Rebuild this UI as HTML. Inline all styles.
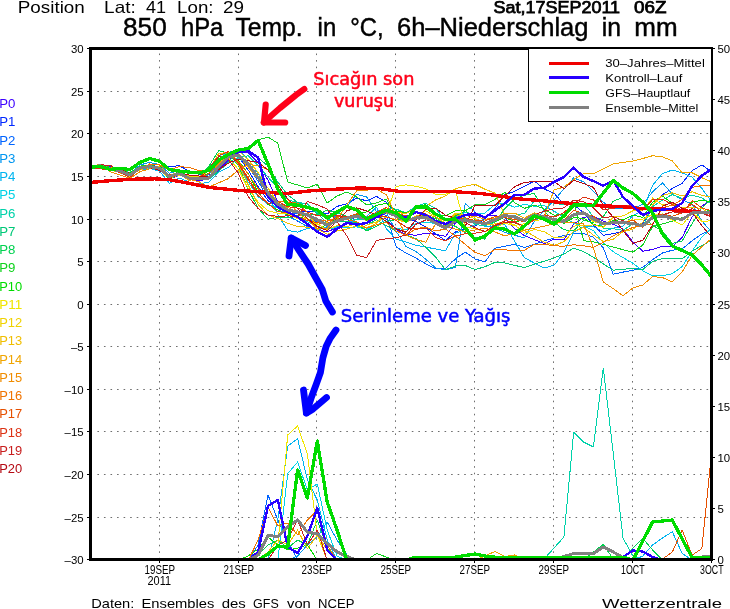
<!DOCTYPE html>
<html><head><meta charset="utf-8"><title>850 hPa Temp. in °C, 6h-Niederschlag in mm</title>
<style>
html,body{margin:0;padding:0;background:#fff;}
svg{display:block;}
</style></head>
<body>
<svg width="730" height="609" viewBox="0 0 730 609" font-family="'Liberation Sans', Arial, sans-serif">
<defs><clipPath id="clip"><rect x="90" y="48" width="622" height="512"/></clipPath></defs>
<rect width="730" height="609" fill="#fff"/>
<path d="M97.4 91.5H711 M97.4 133.5H711 M97.4 176.5H711 M97.4 219.5H711 M97.4 261.5H711 M97.4 304.5H711 M97.4 346.5H711 M97.4 389.5H711 M97.4 431.5H711 M97.4 474.5H711 M97.4 517.5H711 M159.5 53.5V558 M238.5 53.5V558 M316.5 53.5V558 M395.5 53.5V558 M474.5 53.5V558 M553.5 53.5V558 M632.5 53.5V558" stroke="#6e6e6e" stroke-width="1" stroke-dasharray="1.6 4.95" fill="none"/>
<g clip-path="url(#clip)" shape-rendering="crispEdges">
<polyline points="90.5,168.4 100.3,167.2 110.2,169.4 120.0,170.9 129.9,175.6 139.8,169.1 149.6,167.5 159.5,169.8 169.4,179.1 179.2,175.1 189.1,178.6 198.9,180.5 208.8,179.2 218.7,170.1 228.5,159.8 238.4,152.4 248.3,152.6 258.1,162.7 268.0,180.2 277.8,201.7 287.7,214.5 297.6,221.3 307.4,226.0 317.3,230.1 327.2,231.7 337.0,227.9 346.9,222.0 356.7,216.2 366.6,218.2 376.5,217.4 386.3,219.0 396.2,229.6 406.1,234.5 415.9,235.2 425.8,233.3 435.6,234.2 445.5,236.4 455.4,223.1 465.2,214.2 475.1,215.6 485.0,216.2 494.8,215.6 504.7,217.4 514.5,228.4 524.4,235.6 534.3,239.6 544.1,243.6 554.0,239.3 563.9,239.9 573.7,224.2 583.6,217.3 593.4,216.1 603.3,221.1 613.2,224.2 623.0,228.9 632.9,241.9 642.8,251.3 652.6,249.4 662.5,246.1 672.3,246.7 682.2,237.4 692.1,217.0 701.9,206.1 711.8,199.4" fill="none" stroke="#3c00ff" stroke-width="1" stroke-linejoin="round" stroke-linecap="round"/>
<polyline points="90.5,167.5 100.3,164.4 110.2,166.5 120.0,168.8 129.9,173.0 139.8,167.0 149.6,165.0 159.5,167.0 169.4,166.5 179.2,165.8 189.1,171.0 198.9,174.0 208.8,175.0 218.7,160.2 228.5,151.8 238.4,156.7 248.3,170.1 258.1,186.7 268.0,200.7 277.8,206.1 287.7,209.4 297.6,212.1 307.4,211.3 317.3,211.1 327.2,214.0 337.0,206.4 346.9,203.8 356.7,198.2 366.6,200.8 376.5,196.5 386.3,202.2 396.2,213.5 406.1,218.2 415.9,221.4 425.8,227.1 435.6,233.7 445.5,240.6 455.4,232.0 465.2,228.7 475.1,226.0 485.0,218.8 494.8,208.9 504.7,194.6 514.5,191.4 524.4,186.4 534.3,181.0 544.1,189.0 554.0,193.2 563.9,204.1 573.7,204.9 583.6,212.6 593.4,224.8 603.3,235.2 613.2,233.7 623.0,231.3 632.9,227.7 642.8,223.7 652.6,204.8 662.5,194.7 672.3,188.5 682.2,183.2 692.1,170.7 701.9,164.9 711.8,172.0" fill="none" stroke="#0028ff" stroke-width="1" stroke-linejoin="round" stroke-linecap="round"/>
<polyline points="90.5,168.4 100.3,167.3 110.2,170.4 120.0,172.1 129.9,175.9 139.8,167.5 149.6,166.8 159.5,167.8 169.4,176.5 179.2,172.9 189.1,178.1 198.9,178.8 208.8,176.6 218.7,165.3 228.5,156.0 238.4,155.6 248.3,166.7 258.1,181.4 268.0,198.0 277.8,207.6 287.7,213.6 297.6,213.2 307.4,219.1 317.3,221.5 327.2,225.2 337.0,221.6 346.9,217.9 356.7,217.1 366.6,218.7 376.5,213.1 386.3,215.2 396.2,246.9 406.1,253.1 415.9,258.1 425.8,263.7 435.6,269.0 445.5,268.2 455.4,259.1 465.2,252.0 475.1,259.0 485.0,261.9 494.8,248.3 504.7,246.3 514.5,244.4 524.4,247.5 534.3,244.2 544.1,240.9 554.0,238.1 563.9,235.6 573.7,233.4 583.6,233.4 593.4,237.3 603.3,247.7 613.2,274.1 623.0,272.1 632.9,270.3 642.8,267.4 652.6,259.6 662.5,253.0 672.3,250.2 682.2,248.9 692.1,240.8 701.9,233.9 711.8,228.9" fill="none" stroke="#0064ff" stroke-width="1" stroke-linejoin="round" stroke-linecap="round"/>
<polyline points="90.5,168.5 100.3,167.7 110.2,169.8 120.0,171.3 129.9,174.3 139.8,165.0 149.6,162.4 159.5,164.7 169.4,173.2 179.2,170.8 189.1,177.1 198.9,178.8 208.8,174.5 218.7,163.0 228.5,152.3 238.4,150.1 248.3,159.9 258.1,173.6 268.0,192.4 277.8,208.1 287.7,216.4 297.6,220.8 307.4,226.8 317.3,230.2 327.2,226.8 337.0,214.0 346.9,206.3 356.7,194.3 366.6,196.9 376.5,211.9 386.3,212.7 396.2,231.5 406.1,246.5 415.9,251.4 425.8,259.2 435.6,268.0 445.5,270.0 455.4,267.3 465.2,203.6 475.1,211.8 485.0,222.1 494.8,228.1 504.7,232.2 514.5,235.2 524.4,237.9 534.3,221.2 544.1,210.6 554.0,200.3 563.9,189.0 573.7,177.9 583.6,181.8 593.4,191.2 603.3,202.3 613.2,208.3 623.0,208.8 632.9,209.0 642.8,204.0 652.6,191.7 662.5,183.0 672.3,193.9 682.2,199.7 692.1,204.1 701.9,221.0 711.8,232.5" fill="none" stroke="#0096f0" stroke-width="1" stroke-linejoin="round" stroke-linecap="round"/>
<polyline points="90.5,167.5 100.3,167.1 110.2,167.8 120.0,169.3 129.9,174.1 139.8,170.0 149.6,168.5 159.5,171.0 169.4,183.4 179.2,178.0 189.1,182.0 198.9,184.0 208.8,182.0 218.7,172.0 228.5,167.3 238.4,157.8 248.3,164.7 258.1,177.1 268.0,196.0 277.8,214.7 287.7,230.4 297.6,232.1 307.4,228.5 317.3,226.5 327.2,228.3 337.0,226.8 346.9,223.7 356.7,219.0 366.6,216.6 376.5,207.1 386.3,228.7 396.2,239.1 406.1,242.1 415.9,245.2 425.8,247.1 435.6,249.0 445.5,250.8 455.4,233.4 465.2,229.5 475.1,224.3 485.0,226.2 494.8,226.1 504.7,224.2 514.5,241.0 524.4,257.7 534.3,263.0 544.1,268.0 554.0,265.3 563.9,252.6 573.7,232.2 583.6,226.7 593.4,226.5 603.3,232.0 613.2,228.1 623.0,226.1 632.9,215.7 642.8,210.1 652.6,185.3 662.5,173.5 672.3,170.0 682.2,172.9 692.1,177.2 701.9,188.5 711.8,202.2" fill="none" stroke="#00b4f0" stroke-width="1" stroke-linejoin="round" stroke-linecap="round"/>
<polyline points="90.5,168.7 100.3,166.2 110.2,169.9 120.0,172.3 129.9,177.4 139.8,167.3 149.6,167.8 159.5,168.5 169.4,177.1 179.2,173.1 189.1,178.1 198.9,178.9 208.8,169.3 218.7,155.8 228.5,153.0 238.4,163.3 248.3,182.2 258.1,196.6 268.0,204.1 277.8,207.9 287.7,211.2 297.6,217.2 307.4,221.7 317.3,226.7 327.2,229.0 337.0,227.6 346.9,227.7 356.7,226.8 366.6,229.5 376.5,224.6 386.3,222.4 396.2,228.1 406.1,230.0 415.9,223.2 425.8,222.3 435.6,223.4 445.5,228.3 455.4,216.0 465.2,212.5 475.1,213.8 485.0,213.0 494.8,204.5 504.7,203.3 514.5,207.2 524.4,204.2 534.3,206.3 544.1,205.5 554.0,211.1 563.9,217.1 573.7,223.2 583.6,226.2 593.4,230.5 603.3,242.8 613.2,251.7 623.0,257.6 632.9,263.3 642.8,270.7 652.6,275.8 662.5,275.8 672.3,273.7 682.2,266.5 692.1,251.1 701.9,237.0 711.8,228.1" fill="none" stroke="#00d2e6" stroke-width="1" stroke-linejoin="round" stroke-linecap="round"/>
<polyline points="90.5,168.9 100.3,166.4 110.2,169.0 120.0,170.4 129.9,172.3 139.8,167.4 149.6,166.4 159.5,166.3 169.4,175.6 179.2,172.9 189.1,175.7 198.9,178.9 208.8,179.3 218.7,171.5 228.5,162.0 238.4,157.4 248.3,155.8 258.1,165.5 268.0,177.2 277.8,187.9 287.7,199.8 297.6,202.4 307.4,203.9 317.3,212.6 327.2,219.0 337.0,221.2 346.9,217.6 356.7,219.8 366.6,219.7 376.5,214.7 386.3,207.9 396.2,209.2 406.1,212.8 415.9,206.2 425.8,203.2 435.6,208.6 445.5,220.2 455.4,216.3 465.2,218.2 475.1,224.3 485.0,225.9 494.8,222.1 504.7,215.7 514.5,215.2 524.4,213.5 534.3,200.9 544.1,202.0 554.0,203.1 563.9,205.0 573.7,203.5 583.6,204.4 593.4,216.8 603.3,228.1 613.2,228.6 623.0,230.4 632.9,223.8 642.8,226.7 652.6,206.7 662.5,200.0 672.3,194.5 682.2,198.5 692.1,195.0 701.9,198.0 711.8,204.0" fill="none" stroke="#00d2aa" stroke-width="1" stroke-linejoin="round" stroke-linecap="round"/>
<polyline points="90.5,166.3 100.3,165.0 110.2,168.5 120.0,171.0 129.9,173.5 139.8,167.4 149.6,166.8 159.5,167.7 169.4,176.7 179.2,175.0 189.1,179.0 198.9,179.9 208.8,178.6 218.7,171.3 228.5,161.7 238.4,151.4 248.3,150.4 258.1,157.9 268.0,165.9 277.8,182.1 287.7,194.8 297.6,202.5 307.4,207.2 317.3,213.7 327.2,222.7 337.0,221.3 346.9,221.5 356.7,223.0 366.6,225.3 376.5,219.7 386.3,225.6 396.2,231.3 406.1,235.0 415.9,238.6 425.8,247.3 435.6,257.1 445.5,269.8 455.4,266.0 465.2,265.5 475.1,269.6 485.0,266.7 494.8,262.4 504.7,263.0 514.5,265.4 524.4,267.4 534.3,264.3 544.1,261.2 554.0,257.9 563.9,254.1 573.7,248.1 583.6,251.6 593.4,257.3 603.3,263.9 613.2,270.2 623.0,269.2 632.9,268.6 642.8,269.5 652.6,261.3 662.5,258.6 672.3,258.9 682.2,258.8 692.1,251.0 701.9,245.5 711.8,240.1" fill="none" stroke="#00c878" stroke-width="1" stroke-linejoin="round" stroke-linecap="round"/>
<polyline points="90.5,169.0 100.3,165.8 110.2,168.2 120.0,170.6 129.9,174.6 139.8,168.1 149.6,166.0 159.5,168.5 169.4,179.2 179.2,174.5 189.1,179.1 198.9,177.1 208.8,166.4 218.7,150.7 228.5,153.1 238.4,165.4 248.3,189.6 258.1,208.1 268.0,219.3 277.8,217.3 287.7,217.9 297.6,215.7 307.4,215.0 317.3,214.4 327.2,210.2 337.0,212.6 346.9,216.5 356.7,223.7 366.6,230.9 376.5,226.2 386.3,221.4 396.2,219.5 406.1,219.2 415.9,206.6 425.8,205.7 435.6,217.4 445.5,224.1 455.4,226.2 465.2,232.9 475.1,237.4 485.0,239.1 494.8,222.4 504.7,208.7 514.5,199.1 524.4,195.2 534.3,193.4 544.1,210.5 554.0,222.1 563.9,229.8 573.7,231.0 583.6,220.1 593.4,222.5 603.3,216.6 613.2,201.3 623.0,197.2 632.9,206.6 642.8,215.7 652.6,225.3 662.5,231.2 672.3,243.5 682.2,241.0 692.1,223.5 701.9,207.9 711.8,198.4" fill="none" stroke="#00d250" stroke-width="1" stroke-linejoin="round" stroke-linecap="round"/>
<polyline points="90.5,165.9 100.3,165.0 110.2,167.2 120.0,169.0 129.9,174.1 139.8,166.2 149.6,164.9 159.5,167.3 169.4,175.7 179.2,173.6 189.1,178.3 198.9,177.3 208.8,167.9 218.7,156.6 228.5,155.2 238.4,150.0 248.3,149.7 258.1,140.0 268.0,137.0 277.8,143.2 287.7,182.0 297.6,185.0 307.4,188.0 317.3,184.2 327.2,203.0 337.0,196.0 346.9,192.0 356.7,197.1 366.6,205.0 376.5,202.9 386.3,199.0 396.2,215.0 406.1,220.5 415.9,217.3 425.8,214.6 435.6,218.9 445.5,226.0 455.4,216.0 465.2,210.7 475.1,205.0 485.0,204.5 494.8,199.6 504.7,192.3 514.5,202.5 524.4,208.4 534.3,205.1 544.1,208.9 554.0,215.2 563.9,214.3 573.7,202.0 583.6,240.7 593.4,241.9 603.3,244.4 613.2,247.0 623.0,249.7 632.9,252.1 642.8,245.0 652.6,226.5 662.5,223.9 672.3,221.2 682.2,217.7 692.1,214.5 701.9,212.3 711.8,210.0" fill="none" stroke="#10d21e" stroke-width="1" stroke-linejoin="round" stroke-linecap="round"/>
<polyline points="90.5,167.5 100.3,165.4 110.2,168.4 120.0,169.8 129.9,173.0 139.8,167.1 149.6,166.2 159.5,166.2 169.4,176.0 179.2,171.3 189.1,176.4 198.9,178.1 208.8,173.2 218.7,162.3 228.5,155.0 238.4,160.8 248.3,173.9 258.1,192.1 268.0,204.5 277.8,210.0 287.7,214.8 297.6,216.7 307.4,219.0 317.3,229.0 327.2,224.5 337.0,218.8 346.9,217.8 356.7,214.2 366.6,211.9 376.5,205.4 386.3,203.3 396.2,210.9 406.1,212.8 415.9,209.0 425.8,208.4 435.6,215.6 445.5,215.7 455.4,210.8 465.2,209.9 475.1,220.0 485.0,224.1 494.8,221.6 504.7,217.4 514.5,221.7 524.4,220.3 534.3,219.1 544.1,217.6 554.0,219.9 563.9,223.4 573.7,217.8 583.6,218.2 593.4,224.3 603.3,226.7 613.2,220.1 623.0,219.9 632.9,215.2 642.8,217.3 652.6,202.2 662.5,195.9 672.3,203.4 682.2,211.8 692.1,202.3 701.9,200.0 711.8,202.3" fill="none" stroke="#00dc00" stroke-width="1" stroke-linejoin="round" stroke-linecap="round"/>
<polyline points="90.5,167.3 100.3,167.7 110.2,169.3 120.0,171.9 129.9,176.7 139.8,168.4 149.6,167.2 159.5,169.6 169.4,178.4 179.2,174.4 189.1,179.2 198.9,179.2 208.8,170.7 218.7,160.6 228.5,158.1 238.4,169.4 248.3,188.9 258.1,202.1 268.0,210.8 277.8,213.2 287.7,213.6 297.6,218.7 307.4,218.8 317.3,224.6 327.2,222.4 337.0,220.9 346.9,218.0 356.7,215.6 366.6,218.3 376.5,213.4 386.3,213.3 396.2,186.4 406.1,184.8 415.9,186.3 425.8,188.8 435.6,194.4 445.5,194.4 455.4,190.0 465.2,226.9 475.1,228.9 485.0,231.7 494.8,227.8 504.7,223.2 514.5,225.5 524.4,223.8 534.3,220.6 544.1,219.3 554.0,223.7 563.9,221.9 573.7,214.4 583.6,213.3 593.4,221.6 603.3,224.0 613.2,221.5 623.0,223.4 632.9,219.0 642.8,219.1 652.6,214.6 662.5,214.0 672.3,220.3 682.2,225.1 692.1,212.0 701.9,221.3 711.8,220.8" fill="none" stroke="#f0e600" stroke-width="1" stroke-linejoin="round" stroke-linecap="round"/>
<polyline points="90.5,166.4 100.3,167.3 110.2,169.2 120.0,172.9 129.9,175.4 139.8,169.9 149.6,167.5 159.5,169.0 169.4,178.0 179.2,175.0 189.1,176.0 198.9,176.0 208.8,176.5 218.7,164.5 228.5,152.6 238.4,150.7 248.3,159.9 258.1,172.7 268.0,188.2 277.8,202.3 287.7,209.8 297.6,213.2 307.4,215.8 317.3,223.8 327.2,229.9 337.0,225.4 346.9,226.5 356.7,223.7 366.6,225.2 376.5,222.0 386.3,217.0 396.2,219.5 406.1,222.3 415.9,216.9 425.8,210.7 435.6,216.7 445.5,223.3 455.4,213.2 465.2,215.0 475.1,218.8 485.0,224.9 494.8,223.9 504.7,221.9 514.5,224.7 524.4,233.2 534.3,229.4 544.1,231.6 554.0,237.6 563.9,237.3 573.7,226.1 583.6,225.5 593.4,224.9 603.3,227.4 613.2,217.1 623.0,215.9 632.9,210.8 642.8,210.3 652.6,198.0 662.5,205.1 672.3,203.0 682.2,208.0 692.1,207.4 701.9,208.4 711.8,215.5" fill="none" stroke="#f0d200" stroke-width="1" stroke-linejoin="round" stroke-linecap="round"/>
<polyline points="90.5,167.3 100.3,165.8 110.2,170.3 120.0,172.1 129.9,175.2 139.8,168.3 149.6,165.9 159.5,166.6 169.4,174.9 179.2,172.7 189.1,177.4 198.9,177.3 208.8,169.6 218.7,153.4 228.5,152.5 238.4,164.3 248.3,185.2 258.1,204.5 268.0,215.0 277.8,218.6 287.7,223.3 297.6,226.4 307.4,227.2 317.3,229.0 327.2,234.2 337.0,230.9 346.9,229.0 356.7,225.7 366.6,227.9 376.5,223.4 386.3,209.5 396.2,212.1 406.1,213.8 415.9,207.3 425.8,206.6 435.6,200.0 445.5,195.9 455.4,188.7 465.2,186.2 475.1,184.3 485.0,189.2 494.8,193.1 504.7,214.5 514.5,220.4 524.4,230.4 534.3,236.2 544.1,242.2 554.0,245.3 563.9,241.8 573.7,231.1 583.6,227.5 593.4,235.1 603.3,241.6 613.2,239.2 623.0,231.6 632.9,229.3 642.8,222.5 652.6,204.7 662.5,195.3 672.3,192.8 682.2,196.1 692.1,191.7 701.9,195.4 711.8,197.2" fill="none" stroke="#f0be00" stroke-width="1" stroke-linejoin="round" stroke-linecap="round"/>
<polyline points="90.5,165.2 100.3,166.7 110.2,167.4 120.0,170.4 129.9,175.3 139.8,168.2 149.6,167.0 159.5,169.0 169.4,177.6 179.2,173.9 189.1,180.4 198.9,178.0 208.8,176.5 218.7,164.2 228.5,154.7 238.4,155.9 248.3,167.5 258.1,179.0 268.0,192.6 277.8,203.0 287.7,207.5 297.6,212.3 307.4,215.5 317.3,220.2 327.2,223.8 337.0,221.9 346.9,219.2 356.7,216.1 366.6,220.9 376.5,215.1 386.3,211.7 396.2,214.7 406.1,221.3 415.9,216.0 425.8,214.3 435.6,217.0 445.5,220.8 455.4,214.9 465.2,215.5 475.1,216.4 485.0,219.2 494.8,218.2 504.7,213.2 514.5,213.0 524.4,218.2 534.3,212.8 544.1,216.9 554.0,190.0 563.9,187.0 573.7,179.5 583.6,173.6 593.4,173.7 603.3,168.8 613.2,163.9 623.0,162.4 632.9,161.1 642.8,158.5 652.6,155.7 662.5,156.9 672.3,160.9 682.2,172.8 692.1,172.8 701.9,177.7 711.8,182.0" fill="none" stroke="#f0a500" stroke-width="1" stroke-linejoin="round" stroke-linecap="round"/>
<polyline points="90.5,165.7 100.3,164.7 110.2,171.6 120.0,174.9 129.9,178.5 139.8,171.7 149.6,168.9 159.5,168.5 169.4,176.3 179.2,173.5 189.1,179.2 198.9,181.7 208.8,187.0 218.7,182.8 228.5,178.6 238.4,169.7 248.3,164.6 258.1,165.4 268.0,170.0 277.8,184.5 287.7,199.3 297.6,213.3 307.4,219.0 317.3,229.0 327.2,228.3 337.0,219.2 346.9,204.9 356.7,190.8 366.6,190.2 376.5,189.2 386.3,194.8 396.2,216.5 406.1,235.3 415.9,239.4 425.8,242.2 435.6,223.5 445.5,226.2 455.4,229.1 465.2,232.0 475.1,230.0 485.0,228.0 494.8,231.9 504.7,235.9 514.5,233.1 524.4,230.2 534.3,228.1 544.1,226.2 554.0,223.6 563.9,222.2 573.7,222.8 583.6,224.0 593.4,247.6 603.3,282.1 613.2,288.6 623.0,295.8 632.9,287.9 642.8,285.0 652.6,276.6 662.5,277.6 672.3,281.9 682.2,272.0 692.1,255.4 701.9,246.8 711.8,238.2" fill="none" stroke="#f08c00" stroke-width="1" stroke-linejoin="round" stroke-linecap="round"/>
<polyline points="90.5,166.8 100.3,164.7 110.2,169.4 120.0,170.9 129.9,176.1 139.8,169.6 149.6,164.0 159.5,165.0 169.4,170.0 179.2,166.5 189.1,167.5 198.9,170.5 208.8,172.0 218.7,163.0 228.5,151.2 238.4,161.6 248.3,174.2 258.1,188.6 268.0,196.3 277.8,201.3 287.7,202.3 297.6,203.1 307.4,212.6 317.3,220.2 327.2,221.1 337.0,217.8 346.9,219.5 356.7,221.9 366.6,228.3 376.5,224.7 386.3,222.6 396.2,231.0 406.1,235.4 415.9,228.7 425.8,227.1 435.6,231.0 445.5,229.0 455.4,236.0 465.2,244.4 475.1,252.4 485.0,255.7 494.8,249.6 504.7,249.9 514.5,250.4 524.4,250.3 534.3,244.4 544.1,244.2 554.0,245.8 563.9,246.2 573.7,244.8 583.6,245.7 593.4,247.5 603.3,242.3 613.2,235.7 623.0,231.0 632.9,227.5 642.8,225.5 652.6,224.0 662.5,207.7 672.3,205.2 682.2,199.4 692.1,187.3 701.9,185.6 711.8,186.1" fill="none" stroke="#f07300" stroke-width="1" stroke-linejoin="round" stroke-linecap="round"/>
<polyline points="90.5,166.4 100.3,166.8 110.2,167.9 120.0,170.4 129.9,173.9 139.8,167.3 149.6,165.9 159.5,168.5 169.4,174.9 179.2,173.1 189.1,179.1 198.9,178.1 208.8,173.7 218.7,161.4 228.5,153.5 238.4,162.3 248.3,178.1 258.1,193.3 268.0,203.4 277.8,211.5 287.7,213.2 297.6,216.9 307.4,220.4 317.3,222.8 327.2,224.0 337.0,216.7 346.9,217.4 356.7,213.7 366.6,217.3 376.5,212.1 386.3,207.6 396.2,212.5 406.1,216.1 415.9,211.9 425.8,214.0 435.6,220.4 445.5,223.2 455.4,219.2 465.2,217.9 475.1,220.6 485.0,221.1 494.8,216.5 504.7,217.6 514.5,219.4 524.4,221.8 534.3,215.5 544.1,217.3 554.0,219.5 563.9,220.3 573.7,210.1 583.6,214.1 593.4,216.0 603.3,223.8 613.2,222.8 623.0,223.8 632.9,219.9 642.8,227.4 652.6,216.5 662.5,214.1 672.3,216.3 682.2,212.7 692.1,200.8 701.9,208.1 711.8,210.7" fill="none" stroke="#e65000" stroke-width="1" stroke-linejoin="round" stroke-linecap="round"/>
<polyline points="90.5,167.4 100.3,168.9 110.2,169.6 120.0,172.6 129.9,177.3 139.8,168.6 149.6,166.6 159.5,169.9 169.4,177.2 179.2,172.9 189.1,177.2 198.9,177.5 208.8,170.4 218.7,155.7 228.5,151.6 238.4,163.6 248.3,179.9 258.1,195.6 268.0,203.6 277.8,201.5 287.7,206.7 297.6,208.1 307.4,212.0 317.3,215.7 327.2,215.2 337.0,215.3 346.9,217.0 356.7,215.7 366.6,220.2 376.5,216.3 386.3,216.6 396.2,220.6 406.1,227.1 415.9,229.3 425.8,228.1 435.6,237.6 445.5,240.9 455.4,236.0 465.2,233.7 475.1,233.2 485.0,231.6 494.8,225.1 504.7,220.9 514.5,221.4 524.4,227.0 534.3,219.7 544.1,214.8 554.0,217.1 563.9,212.6 573.7,203.7 583.6,197.1 593.4,199.9 603.3,210.0 613.2,208.4 623.0,205.7 632.9,205.4 642.8,210.3 652.6,199.6 662.5,199.4 672.3,204.4 682.2,210.4 692.1,204.0 701.9,212.3 711.8,217.1" fill="none" stroke="#dc3214" stroke-width="1" stroke-linejoin="round" stroke-linecap="round"/>
<polyline points="90.5,167.1 100.3,164.8 110.2,165.3 120.0,170.8 129.9,173.6 139.8,168.3 149.6,166.5 159.5,169.2 169.4,177.8 179.2,174.5 189.1,178.1 198.9,179.6 208.8,168.7 218.7,156.3 228.5,159.4 238.4,173.5 248.3,196.8 258.1,208.6 268.0,215.0 277.8,216.5 287.7,215.8 297.6,216.8 307.4,201.4 317.3,204.7 327.2,209.1 337.0,221.7 346.9,236.0 356.7,255.1 366.6,257.7 376.5,240.5 386.3,238.7 396.2,237.7 406.1,235.0 415.9,224.3 425.8,220.0 435.6,220.1 445.5,228.0 455.4,218.4 465.2,222.5 475.1,227.8 485.0,231.4 494.8,225.7 504.7,222.4 514.5,222.9 524.4,226.0 534.3,215.0 544.1,211.1 554.0,208.8 563.9,207.9 573.7,200.0 583.6,201.7 593.4,207.8 603.3,217.8 613.2,216.5 623.0,220.8 632.9,224.1 642.8,224.8 652.6,217.2 662.5,214.9 672.3,211.8 682.2,213.1 692.1,208.7 701.9,213.3 711.8,217.0" fill="none" stroke="#c81e1e" stroke-width="1" stroke-linejoin="round" stroke-linecap="round"/>
<polyline points="90.5,168.0 100.3,165.3 110.2,168.0 120.0,169.1 129.9,173.7 139.8,169.0 149.6,167.5 159.5,170.4 169.4,177.2 179.2,173.3 189.1,175.0 198.9,176.0 208.8,176.9 218.7,169.5 228.5,163.1 238.4,159.2 248.3,160.6 258.1,162.5 268.0,169.8 277.8,185.1 287.7,198.9 297.6,208.7 307.4,218.6 317.3,226.5 327.2,230.6 337.0,221.2 346.9,210.8 356.7,207.8 366.6,211.0 376.5,214.9 386.3,221.3 396.2,228.9 406.1,232.2 415.9,219.7 425.8,209.3 435.6,208.1 445.5,215.2 455.4,218.2 465.2,226.3 475.1,205.0 485.0,205.6 494.8,205.8 504.7,195.9 514.5,186.9 524.4,182.2 534.3,181.8 544.1,181.6 554.0,181.3 563.9,188.9 573.7,180.2 583.6,183.5 593.4,187.4 603.3,205.7 613.2,217.2 623.0,230.5 632.9,243.4 642.8,240.3 652.6,224.9 662.5,206.2 672.3,202.3 682.2,208.5 692.1,212.1 701.9,225.8 711.8,237.3" fill="none" stroke="#b40a14" stroke-width="1" stroke-linejoin="round" stroke-linecap="round"/>
<polyline points="90.5,560.2 100.3,560.2 110.2,560.2 120.0,560.2 129.9,560.2 139.8,560.2 149.6,560.2 159.5,560.2 169.4,560.2 179.2,560.2 189.1,560.2 198.9,560.2 208.8,560.2 218.7,560.2 228.5,560.2 238.4,560.2 248.3,560.2 258.1,560.2 268.0,560.2 277.8,560.2 287.7,560.2 297.6,560.2 307.4,560.2 317.3,560.2 327.2,560.2 337.0,560.2 346.9,560.2 356.7,560.2 366.6,560.2 376.5,560.2 386.3,560.2 396.2,560.2 406.1,560.2 415.9,560.2 425.8,560.2 435.6,560.2 445.5,560.2 455.4,560.2 465.2,560.2 475.1,560.2 485.0,560.2 494.8,560.2 504.7,560.2 514.5,560.2 524.4,560.2 534.3,560.2 544.1,560.2 554.0,560.2 563.9,560.2 573.7,560.2 583.6,560.2 593.4,560.2 603.3,560.2 613.2,560.2 623.0,560.2 632.9,560.2 642.8,560.2 652.6,560.2 662.5,560.2 672.3,560.2 682.2,560.2 692.1,560.2 701.9,560.2 711.8,560.2" fill="none" stroke="#3c00ff" stroke-width="1" stroke-linejoin="round" stroke-linecap="round"/>
<polyline points="90.5,560.2 100.3,560.2 110.2,560.2 120.0,560.2 129.9,560.2 139.8,560.2 149.6,560.2 159.5,560.2 169.4,560.2 179.2,560.2 189.1,560.2 198.9,560.2 208.8,560.2 218.7,560.2 228.5,560.2 238.4,560.2 248.3,560.2 258.1,560.2 268.0,560.2 277.8,560.2 287.7,560.2 297.6,560.2 307.4,560.2 317.3,560.2 327.2,560.2 337.0,560.2 346.9,560.2 356.7,560.2 366.6,560.2 376.5,560.2 386.3,560.2 396.2,560.2 406.1,560.2 415.9,560.2 425.8,560.2 435.6,560.2 445.5,560.2 455.4,560.2 465.2,560.2 475.1,560.2 485.0,560.2 494.8,560.2 504.7,560.2 514.5,560.2 524.4,560.2 534.3,560.2 544.1,560.2 554.0,560.2 563.9,560.2 573.7,560.2 583.6,560.2 593.4,560.2 603.3,560.2 613.2,560.2 623.0,560.2 632.9,560.2 642.8,560.2 652.6,560.2 662.5,560.2 672.3,560.2 682.2,560.2 692.1,560.2 701.9,560.2 711.8,560.2" fill="none" stroke="#0028ff" stroke-width="1" stroke-linejoin="round" stroke-linecap="round"/>
<polyline points="90.5,560.2 100.3,560.2 110.2,560.2 120.0,560.2 129.9,560.2 139.8,560.2 149.6,560.2 159.5,560.2 169.4,560.2 179.2,560.2 189.1,560.2 198.9,560.2 208.8,560.2 218.7,560.2 228.5,560.2 238.4,560.2 248.3,560.2 258.1,545.0 268.0,495.0 277.8,520.0 287.7,540.0 297.6,560.2 307.4,560.2 317.3,560.2 327.2,560.2 337.0,560.2 346.9,560.2 356.7,560.2 366.6,560.2 376.5,560.2 386.3,560.2 396.2,560.2 406.1,560.2 415.9,560.2 425.8,560.2 435.6,560.2 445.5,560.2 455.4,560.2 465.2,560.2 475.1,560.2 485.0,560.2 494.8,560.2 504.7,560.2 514.5,560.2 524.4,560.2 534.3,560.2 544.1,560.2 554.0,560.2 563.9,560.2 573.7,560.2 583.6,560.2 593.4,560.2 603.3,560.2 613.2,560.2 623.0,560.2 632.9,560.2 642.8,560.2 652.6,560.2 662.5,560.2 672.3,560.2 682.2,560.2 692.1,560.2 701.9,560.2 711.8,560.2" fill="none" stroke="#0064ff" stroke-width="1" stroke-linejoin="round" stroke-linecap="round"/>
<polyline points="90.5,560.2 100.3,560.2 110.2,560.2 120.0,560.2 129.9,560.2 139.8,560.2 149.6,560.2 159.5,560.2 169.4,560.2 179.2,560.2 189.1,560.2 198.9,560.2 208.8,560.2 218.7,560.2 228.5,560.2 238.4,560.2 248.3,560.2 258.1,560.2 268.0,560.2 277.8,560.2 287.7,560.2 297.6,556.0 307.4,545.0 317.3,537.0 327.2,522.0 337.0,540.0 346.9,555.0 356.7,560.2 366.6,560.2 376.5,560.2 386.3,560.2 396.2,560.2 406.1,560.2 415.9,560.2 425.8,560.2 435.6,560.2 445.5,560.2 455.4,560.2 465.2,560.2 475.1,560.2 485.0,560.2 494.8,560.2 504.7,560.2 514.5,560.2 524.4,560.2 534.3,560.2 544.1,560.2 554.0,560.2 563.9,560.2 573.7,560.2 583.6,560.2 593.4,560.2 603.3,560.2 613.2,560.2 623.0,560.2 632.9,560.2 642.8,560.2 652.6,560.2 662.5,560.2 672.3,560.2 682.2,560.2 692.1,560.2 701.9,560.2 711.8,560.2" fill="none" stroke="#0096f0" stroke-width="1" stroke-linejoin="round" stroke-linecap="round"/>
<polyline points="90.5,560.2 100.3,560.2 110.2,560.2 120.0,560.2 129.9,560.2 139.8,560.2 149.6,560.2 159.5,560.2 169.4,560.2 179.2,560.2 189.1,560.2 198.9,560.2 208.8,560.2 218.7,560.2 228.5,560.2 238.4,560.2 248.3,560.2 258.1,560.2 268.0,560.2 277.8,520.0 287.7,446.0 297.6,438.6 307.4,480.0 317.3,500.0 327.2,540.0 337.0,560.2 346.9,560.2 356.7,560.2 366.6,560.2 376.5,560.2 386.3,560.2 396.2,560.2 406.1,560.2 415.9,560.2 425.8,560.2 435.6,560.2 445.5,560.2 455.4,560.2 465.2,560.2 475.1,560.2 485.0,560.2 494.8,560.2 504.7,560.2 514.5,560.2 524.4,560.2 534.3,560.2 544.1,560.2 554.0,560.2 563.9,560.2 573.7,560.2 583.6,560.2 593.4,560.2 603.3,560.2 613.2,560.2 623.0,560.2 632.9,560.2 642.8,556.0 652.6,545.0 662.5,538.0 672.3,531.7 682.2,553.5 692.1,560.2 701.9,560.2 711.8,560.2" fill="none" stroke="#00b4f0" stroke-width="1" stroke-linejoin="round" stroke-linecap="round"/>
<polyline points="90.5,560.2 100.3,560.2 110.2,560.2 120.0,560.2 129.9,560.2 139.8,560.2 149.6,560.2 159.5,560.2 169.4,560.2 179.2,560.2 189.1,560.2 198.9,560.2 208.8,560.2 218.7,560.2 228.5,560.2 238.4,560.2 248.3,560.2 258.1,560.2 268.0,560.2 277.8,560.2 287.7,473.6 297.6,462.0 307.4,490.0 317.3,484.0 327.2,530.0 337.0,556.0 346.9,560.2 356.7,560.2 366.6,560.2 376.5,560.2 386.3,560.2 396.2,560.2 406.1,560.2 415.9,560.2 425.8,560.2 435.6,560.2 445.5,560.2 455.4,560.2 465.2,560.2 475.1,560.2 485.0,560.2 494.8,560.2 504.7,560.2 514.5,560.2 524.4,560.2 534.3,560.2 544.1,560.2 554.0,560.2 563.9,560.2 573.7,560.2 583.6,560.2 593.4,560.2 603.3,560.2 613.2,560.2 623.0,560.2 632.9,560.2 642.8,560.2 652.6,560.2 662.5,560.2 672.3,560.2 682.2,560.2 692.1,560.2 701.9,560.2 711.8,560.2" fill="none" stroke="#00d2e6" stroke-width="1" stroke-linejoin="round" stroke-linecap="round"/>
<polyline points="90.5,560.2 100.3,560.2 110.2,560.2 120.0,560.2 129.9,560.2 139.8,560.2 149.6,560.2 159.5,560.2 169.4,560.2 179.2,560.2 189.1,560.2 198.9,560.2 208.8,560.2 218.7,560.2 228.5,560.2 238.4,560.2 248.3,560.2 258.1,560.2 268.0,560.2 277.8,560.2 287.7,560.2 297.6,560.2 307.4,560.2 317.3,560.2 327.2,560.2 337.0,560.2 346.9,560.2 356.7,560.2 366.6,560.2 376.5,560.2 386.3,560.2 396.2,560.2 406.1,560.2 415.9,560.2 425.8,560.2 435.6,560.2 445.5,560.2 455.4,560.2 465.2,560.2 475.1,560.2 485.0,560.2 494.8,560.2 504.7,560.2 514.5,560.2 524.4,560.2 534.3,560.2 544.1,559.0 554.0,548.0 563.9,537.0 573.7,432.0 583.6,442.0 593.4,447.0 603.3,368.0 613.2,453.0 623.0,538.0 632.9,556.0 642.8,560.2 652.6,560.2 662.5,560.2 672.3,560.2 682.2,560.2 692.1,560.2 701.9,560.2 711.8,560.2" fill="none" stroke="#00d2aa" stroke-width="1" stroke-linejoin="round" stroke-linecap="round"/>
<polyline points="90.5,560.2 100.3,560.2 110.2,560.2 120.0,560.2 129.9,560.2 139.8,560.2 149.6,560.2 159.5,560.2 169.4,560.2 179.2,560.2 189.1,560.2 198.9,560.2 208.8,560.2 218.7,560.2 228.5,560.2 238.4,560.2 248.3,560.2 258.1,560.2 268.0,560.2 277.8,560.2 287.7,560.2 297.6,560.2 307.4,560.2 317.3,560.2 327.2,560.2 337.0,560.2 346.9,560.2 356.7,560.2 366.6,560.2 376.5,560.2 386.3,560.2 396.2,560.2 406.1,560.2 415.9,560.2 425.8,560.2 435.6,560.2 445.5,560.2 455.4,560.2 465.2,560.2 475.1,560.2 485.0,560.2 494.8,560.2 504.7,560.2 514.5,560.2 524.4,560.2 534.3,560.2 544.1,560.2 554.0,560.2 563.9,560.2 573.7,560.2 583.6,560.2 593.4,560.2 603.3,560.2 613.2,560.2 623.0,560.2 632.9,560.2 642.8,560.2 652.6,560.2 662.5,560.2 672.3,560.2 682.2,560.2 692.1,560.2 701.9,560.2 711.8,560.2" fill="none" stroke="#00c878" stroke-width="1" stroke-linejoin="round" stroke-linecap="round"/>
<polyline points="90.5,560.2 100.3,560.2 110.2,560.2 120.0,560.2 129.9,560.2 139.8,560.2 149.6,560.2 159.5,560.2 169.4,560.2 179.2,560.2 189.1,560.2 198.9,560.2 208.8,560.2 218.7,560.2 228.5,560.2 238.4,560.2 248.3,560.2 258.1,555.0 268.0,545.0 277.8,540.0 287.7,548.0 297.6,540.0 307.4,545.0 317.3,520.0 327.2,548.0 337.0,560.2 346.9,560.2 356.7,560.2 366.6,560.2 376.5,560.2 386.3,560.2 396.2,560.2 406.1,560.2 415.9,560.2 425.8,560.2 435.6,560.2 445.5,560.2 455.4,560.2 465.2,560.2 475.1,560.2 485.0,560.2 494.8,560.2 504.7,560.2 514.5,560.2 524.4,560.2 534.3,560.2 544.1,560.2 554.0,560.2 563.9,560.2 573.7,560.2 583.6,560.2 593.4,552.0 603.3,544.4 613.2,559.0 623.0,560.2 632.9,548.0 642.8,538.4 652.6,550.0 662.5,560.2 672.3,560.2 682.2,560.2 692.1,560.2 701.9,560.2 711.8,560.2" fill="none" stroke="#00d250" stroke-width="1" stroke-linejoin="round" stroke-linecap="round"/>
<polyline points="90.5,560.2 100.3,560.2 110.2,560.2 120.0,560.2 129.9,560.2 139.8,560.2 149.6,560.2 159.5,560.2 169.4,560.2 179.2,560.2 189.1,560.2 198.9,560.2 208.8,560.2 218.7,560.2 228.5,560.2 238.4,560.2 248.3,560.2 258.1,560.2 268.0,560.2 277.8,560.2 287.7,560.2 297.6,560.2 307.4,560.2 317.3,560.2 327.2,560.2 337.0,560.2 346.9,560.2 356.7,560.2 366.6,560.2 376.5,553.5 386.3,557.0 396.2,560.2 406.1,560.2 415.9,560.2 425.8,560.2 435.6,560.2 445.5,560.2 455.4,560.2 465.2,560.2 475.1,560.2 485.0,560.2 494.8,560.2 504.7,560.2 514.5,560.2 524.4,560.2 534.3,560.2 544.1,560.2 554.0,560.2 563.9,560.2 573.7,560.2 583.6,560.2 593.4,560.2 603.3,560.2 613.2,560.2 623.0,560.2 632.9,560.2 642.8,560.2 652.6,560.2 662.5,560.2 672.3,560.2 682.2,560.2 692.1,560.2 701.9,560.2 711.8,560.2" fill="none" stroke="#10d21e" stroke-width="1" stroke-linejoin="round" stroke-linecap="round"/>
<polyline points="90.5,560.2 100.3,560.2 110.2,560.2 120.0,560.2 129.9,560.2 139.8,560.2 149.6,560.2 159.5,560.2 169.4,560.2 179.2,560.2 189.1,560.2 198.9,560.2 208.8,560.2 218.7,560.2 228.5,560.2 238.4,560.2 248.3,556.0 258.1,549.0 268.0,537.0 277.8,545.0 287.7,550.0 297.6,548.0 307.4,545.0 317.3,560.2 327.2,560.2 337.0,560.2 346.9,560.2 356.7,560.2 366.6,560.2 376.5,560.2 386.3,560.2 396.2,560.2 406.1,560.2 415.9,560.2 425.8,560.2 435.6,560.2 445.5,560.2 455.4,560.2 465.2,560.2 475.1,560.2 485.0,560.2 494.8,560.2 504.7,560.2 514.5,560.2 524.4,560.2 534.3,560.2 544.1,560.2 554.0,560.2 563.9,560.2 573.7,560.2 583.6,560.2 593.4,560.2 603.3,560.2 613.2,560.2 623.0,560.2 632.9,560.2 642.8,560.2 652.6,560.2 662.5,560.2 672.3,560.2 682.2,560.2 692.1,560.2 701.9,560.2 711.8,560.2" fill="none" stroke="#00dc00" stroke-width="1" stroke-linejoin="round" stroke-linecap="round"/>
<polyline points="90.5,560.2 100.3,560.2 110.2,560.2 120.0,560.2 129.9,560.2 139.8,560.2 149.6,560.2 159.5,560.2 169.4,560.2 179.2,560.2 189.1,560.2 198.9,560.2 208.8,560.2 218.7,560.2 228.5,560.2 238.4,560.2 248.3,560.2 258.1,560.2 268.0,560.2 277.8,545.0 287.7,435.0 297.6,426.0 307.4,454.0 317.3,535.0 327.2,560.2 337.0,560.2 346.9,560.2 356.7,560.2 366.6,560.2 376.5,560.2 386.3,560.2 396.2,560.2 406.1,560.2 415.9,560.2 425.8,560.2 435.6,560.2 445.5,560.2 455.4,560.2 465.2,560.2 475.1,560.2 485.0,560.2 494.8,560.2 504.7,560.2 514.5,560.2 524.4,560.2 534.3,560.2 544.1,560.2 554.0,560.2 563.9,560.2 573.7,560.2 583.6,560.2 593.4,560.2 603.3,560.2 613.2,560.2 623.0,560.2 632.9,560.2 642.8,560.2 652.6,560.2 662.5,560.2 672.3,560.2 682.2,560.2 692.1,560.2 701.9,560.2 711.8,560.2" fill="none" stroke="#f0e600" stroke-width="1" stroke-linejoin="round" stroke-linecap="round"/>
<polyline points="90.5,560.2 100.3,560.2 110.2,560.2 120.0,560.2 129.9,560.2 139.8,560.2 149.6,560.2 159.5,560.2 169.4,560.2 179.2,560.2 189.1,560.2 198.9,560.2 208.8,560.2 218.7,560.2 228.5,560.2 238.4,560.2 248.3,560.2 258.1,560.2 268.0,560.2 277.8,560.2 287.7,560.2 297.6,560.2 307.4,560.2 317.3,560.2 327.2,560.2 337.0,560.2 346.9,560.2 356.7,560.2 366.6,560.2 376.5,560.2 386.3,560.2 396.2,560.2 406.1,560.2 415.9,560.2 425.8,560.2 435.6,560.2 445.5,560.2 455.4,560.2 465.2,560.2 475.1,560.2 485.0,560.2 494.8,560.2 504.7,560.2 514.5,560.2 524.4,560.2 534.3,560.2 544.1,560.2 554.0,560.2 563.9,560.2 573.7,560.2 583.6,560.2 593.4,560.2 603.3,560.2 613.2,560.2 623.0,560.2 632.9,560.2 642.8,560.2 652.6,560.2 662.5,560.2 672.3,560.2 682.2,560.2 692.1,560.2 701.9,560.2 711.8,560.2" fill="none" stroke="#f0d200" stroke-width="1" stroke-linejoin="round" stroke-linecap="round"/>
<polyline points="90.5,560.2 100.3,560.2 110.2,560.2 120.0,560.2 129.9,560.2 139.8,560.2 149.6,560.2 159.5,560.2 169.4,560.2 179.2,560.2 189.1,560.2 198.9,560.2 208.8,560.2 218.7,560.2 228.5,560.2 238.4,560.2 248.3,560.2 258.1,560.2 268.0,552.0 277.8,540.0 287.7,545.0 297.6,530.0 307.4,549.0 317.3,535.0 327.2,550.0 337.0,560.2 346.9,560.2 356.7,560.2 366.6,560.2 376.5,560.2 386.3,560.2 396.2,560.2 406.1,560.2 415.9,560.2 425.8,560.2 435.6,560.2 445.5,560.2 455.4,560.2 465.2,560.2 475.1,560.2 485.0,560.2 494.8,560.2 504.7,560.2 514.5,560.2 524.4,560.2 534.3,560.2 544.1,560.2 554.0,560.2 563.9,560.2 573.7,560.2 583.6,560.2 593.4,560.2 603.3,560.2 613.2,560.2 623.0,560.2 632.9,560.2 642.8,560.2 652.6,560.2 662.5,560.2 672.3,560.2 682.2,560.2 692.1,560.2 701.9,560.2 711.8,560.2" fill="none" stroke="#f0be00" stroke-width="1" stroke-linejoin="round" stroke-linecap="round"/>
<polyline points="90.5,560.2 100.3,560.2 110.2,560.2 120.0,560.2 129.9,560.2 139.8,560.2 149.6,560.2 159.5,560.2 169.4,560.2 179.2,560.2 189.1,560.2 198.9,560.2 208.8,560.2 218.7,560.2 228.5,560.2 238.4,560.2 248.3,560.2 258.1,560.2 268.0,560.2 277.8,560.2 287.7,560.2 297.6,560.2 307.4,560.2 317.3,560.2 327.2,560.2 337.0,560.2 346.9,560.2 356.7,560.2 366.6,560.2 376.5,560.2 386.3,560.2 396.2,560.2 406.1,560.2 415.9,560.2 425.8,560.2 435.6,560.2 445.5,560.2 455.4,560.2 465.2,560.2 475.1,560.2 485.0,556.0 494.8,551.5 504.7,556.5 514.5,555.0 524.4,560.2 534.3,560.2 544.1,560.2 554.0,560.2 563.9,560.2 573.7,560.2 583.6,560.2 593.4,560.2 603.3,560.2 613.2,560.2 623.0,560.2 632.9,560.2 642.8,560.2 652.6,560.2 662.5,560.2 672.3,560.2 682.2,560.2 692.1,560.2 701.9,560.2 711.8,560.2" fill="none" stroke="#f0a500" stroke-width="1" stroke-linejoin="round" stroke-linecap="round"/>
<polyline points="90.5,560.2 100.3,560.2 110.2,560.2 120.0,560.2 129.9,560.2 139.8,560.2 149.6,560.2 159.5,560.2 169.4,560.2 179.2,560.2 189.1,560.2 198.9,560.2 208.8,560.2 218.7,560.2 228.5,560.2 238.4,560.2 248.3,560.2 258.1,560.2 268.0,560.2 277.8,560.2 287.7,560.2 297.6,560.2 307.4,560.2 317.3,560.2 327.2,560.2 337.0,560.2 346.9,560.2 356.7,560.2 366.6,560.2 376.5,560.2 386.3,560.2 396.2,560.2 406.1,560.2 415.9,560.2 425.8,560.2 435.6,560.2 445.5,560.2 455.4,560.2 465.2,560.2 475.1,560.2 485.0,560.2 494.8,560.2 504.7,560.2 514.5,560.2 524.4,560.2 534.3,560.2 544.1,560.2 554.0,560.2 563.9,560.2 573.7,560.2 583.6,560.2 593.4,560.2 603.3,560.2 613.2,560.2 623.0,560.2 632.9,560.2 642.8,560.2 652.6,560.2 662.5,560.2 672.3,560.2 682.2,560.2 692.1,560.2 701.9,560.2 711.8,560.2" fill="none" stroke="#f08c00" stroke-width="1" stroke-linejoin="round" stroke-linecap="round"/>
<polyline points="90.5,560.2 100.3,560.2 110.2,560.2 120.0,560.2 129.9,560.2 139.8,560.2 149.6,560.2 159.5,560.2 169.4,560.2 179.2,560.2 189.1,560.2 198.9,560.2 208.8,560.2 218.7,560.2 228.5,560.2 238.4,560.2 248.3,560.2 258.1,540.0 268.0,507.0 277.8,526.0 287.7,523.0 297.6,535.0 307.4,520.0 317.3,510.0 327.2,545.0 337.0,560.2 346.9,560.2 356.7,560.2 366.6,560.2 376.5,560.2 386.3,560.2 396.2,560.2 406.1,560.2 415.9,560.2 425.8,560.2 435.6,560.2 445.5,560.2 455.4,560.2 465.2,560.2 475.1,560.2 485.0,560.2 494.8,560.2 504.7,560.2 514.5,560.2 524.4,560.2 534.3,560.2 544.1,560.2 554.0,560.2 563.9,560.2 573.7,560.2 583.6,560.2 593.4,560.2 603.3,560.2 613.2,560.2 623.0,560.2 632.9,560.2 642.8,560.2 652.6,560.2 662.5,560.2 672.3,560.2 682.2,560.2 692.1,560.2 701.9,560.2 711.8,560.2" fill="none" stroke="#f07300" stroke-width="1" stroke-linejoin="round" stroke-linecap="round"/>
<polyline points="90.5,560.2 100.3,560.2 110.2,560.2 120.0,560.2 129.9,560.2 139.8,560.2 149.6,560.2 159.5,560.2 169.4,560.2 179.2,560.2 189.1,560.2 198.9,560.2 208.8,560.2 218.7,560.2 228.5,560.2 238.4,560.2 248.3,560.2 258.1,560.2 268.0,560.2 277.8,560.2 287.7,560.2 297.6,560.2 307.4,560.2 317.3,560.2 327.2,560.2 337.0,560.2 346.9,560.2 356.7,560.2 366.6,560.2 376.5,560.2 386.3,560.2 396.2,560.2 406.1,560.2 415.9,560.2 425.8,560.2 435.6,560.2 445.5,560.2 455.4,560.2 465.2,560.2 475.1,560.2 485.0,560.2 494.8,560.2 504.7,560.2 514.5,560.2 524.4,560.2 534.3,560.2 544.1,560.2 554.0,560.2 563.9,560.2 573.7,560.2 583.6,560.2 593.4,560.2 603.3,560.2 613.2,560.2 623.0,560.2 632.9,560.2 642.8,560.2 652.6,560.2 662.5,559.0 672.3,552.0 682.2,530.0 692.1,555.2 701.9,548.5 711.8,450.0" fill="none" stroke="#e65000" stroke-width="1" stroke-linejoin="round" stroke-linecap="round"/>
<polyline points="90.5,560.2 100.3,560.2 110.2,560.2 120.0,560.2 129.9,560.2 139.8,560.2 149.6,560.2 159.5,560.2 169.4,560.2 179.2,560.2 189.1,560.2 198.9,560.2 208.8,560.2 218.7,560.2 228.5,560.2 238.4,560.2 248.3,560.2 258.1,560.2 268.0,560.2 277.8,560.2 287.7,560.2 297.6,560.2 307.4,560.2 317.3,560.2 327.2,560.2 337.0,560.2 346.9,560.2 356.7,560.2 366.6,560.2 376.5,560.2 386.3,560.2 396.2,560.2 406.1,560.2 415.9,560.2 425.8,560.2 435.6,560.2 445.5,560.2 455.4,560.2 465.2,560.2 475.1,560.2 485.0,560.2 494.8,560.2 504.7,560.2 514.5,560.2 524.4,560.2 534.3,560.2 544.1,560.2 554.0,560.2 563.9,560.2 573.7,560.2 583.6,560.2 593.4,560.2 603.3,560.2 613.2,560.2 623.0,560.2 632.9,560.2 642.8,560.2 652.6,560.2 662.5,560.2 672.3,560.2 682.2,560.2 692.1,560.2 701.9,560.2 711.8,560.2" fill="none" stroke="#dc3214" stroke-width="1" stroke-linejoin="round" stroke-linecap="round"/>
<polyline points="90.5,560.2 100.3,560.2 110.2,560.2 120.0,560.2 129.9,560.2 139.8,560.2 149.6,560.2 159.5,560.2 169.4,560.2 179.2,560.2 189.1,560.2 198.9,560.2 208.8,560.2 218.7,560.2 228.5,560.2 238.4,560.2 248.3,560.2 258.1,560.2 268.0,560.2 277.8,545.0 287.7,540.0 297.6,520.0 307.4,545.0 317.3,530.0 327.2,560.2 337.0,560.2 346.9,560.2 356.7,560.2 366.6,560.2 376.5,560.2 386.3,560.2 396.2,560.2 406.1,560.2 415.9,560.2 425.8,560.2 435.6,560.2 445.5,560.2 455.4,560.2 465.2,560.2 475.1,560.2 485.0,560.2 494.8,560.2 504.7,560.2 514.5,560.2 524.4,560.2 534.3,560.2 544.1,560.2 554.0,560.2 563.9,560.2 573.7,560.2 583.6,560.2 593.4,560.2 603.3,560.2 613.2,560.2 623.0,560.2 632.9,560.2 642.8,560.2 652.6,560.2 662.5,560.2 672.3,560.2 682.2,560.2 692.1,560.2 701.9,560.2 711.8,560.2" fill="none" stroke="#c81e1e" stroke-width="1" stroke-linejoin="round" stroke-linecap="round"/>
<polyline points="90.5,560.2 100.3,560.2 110.2,560.2 120.0,560.2 129.9,560.2 139.8,560.2 149.6,560.2 159.5,560.2 169.4,560.2 179.2,560.2 189.1,560.2 198.9,560.2 208.8,560.2 218.7,560.2 228.5,560.2 238.4,560.2 248.3,560.2 258.1,560.2 268.0,560.2 277.8,560.2 287.7,560.2 297.6,560.2 307.4,560.2 317.3,560.2 327.2,560.2 337.0,560.2 346.9,560.2 356.7,560.2 366.6,560.2 376.5,560.2 386.3,560.2 396.2,560.2 406.1,560.2 415.9,560.2 425.8,560.2 435.6,560.2 445.5,560.2 455.4,560.2 465.2,560.2 475.1,560.2 485.0,560.2 494.8,560.2 504.7,560.2 514.5,560.2 524.4,560.2 534.3,560.2 544.1,560.2 554.0,560.2 563.9,560.2 573.7,560.2 583.6,560.2 593.4,560.2 603.3,560.2 613.2,560.2 623.0,560.2 632.9,560.2 642.8,560.2 652.6,560.2 662.5,560.2 672.3,560.2 682.2,560.2 692.1,560.2 701.9,560.2 711.8,560.2" fill="none" stroke="#b40a14" stroke-width="1" stroke-linejoin="round" stroke-linecap="round"/>
<polyline points="90.0,182.5 110.0,180.7 130.0,179.3 155.0,178.8 170.0,179.8 190.0,183.5 210.0,187.5 240.0,190.5 265.0,192.2 286.0,193.5 313.0,190.6 340.0,189.0 359.0,188.0 380.0,188.6 398.0,191.3 430.0,191.5 450.0,191.4 480.0,193.4 500.0,196.0 520.0,199.0 540.0,200.5 553.0,201.7 580.0,204.3 600.0,205.8 620.0,206.5 640.0,208.5 660.0,208.7 680.0,210.5 700.0,212.2 712.0,213.0" fill="none" stroke="#f00000" stroke-width="3.4" stroke-linejoin="round" stroke-linecap="round"/>
<polyline points="90.5,167.0 100.3,165.8 110.2,169.0 120.0,171.0 129.9,175.0 139.8,168.0 149.6,166.6 159.5,168.3 169.4,176.5 179.2,173.5 189.1,178.0 198.9,178.7 208.8,178.0 218.7,167.0 228.5,157.0 238.4,152.0 248.3,151.0 258.1,157.5 268.0,197.0 277.8,207.0 287.7,212.0 297.6,217.0 307.4,224.0 317.3,232.0 327.2,237.0 337.0,229.0 346.9,223.0 356.7,224.5 366.6,223.0 376.5,217.0 386.3,212.0 396.2,215.0 406.1,217.4 415.9,212.0 425.8,215.0 435.6,221.0 445.5,224.0 455.4,219.0 465.2,215.0 475.1,213.5 485.0,217.5 494.8,210.6 504.7,203.5 514.5,195.0 524.4,194.8 534.3,188.5 544.1,188.0 554.0,182.0 563.9,177.0 573.7,167.7 583.6,177.0 593.4,181.0 603.3,185.7 613.2,180.5 623.0,197.0 632.9,206.0 642.8,215.0 652.6,211.0 662.5,209.5 672.3,209.0 682.2,203.0 692.1,186.0 701.9,175.5 711.8,169.0" fill="none" stroke="#2800ff" stroke-width="2.4" stroke-linejoin="round" stroke-linecap="round"/>
<polyline points="90.5,560.2 100.3,560.2 110.2,560.2 120.0,560.2 129.9,560.2 139.8,560.2 149.6,560.2 159.5,560.2 169.4,560.2 179.2,560.2 189.1,560.2 198.9,560.2 208.8,560.2 218.7,560.2 228.5,560.2 238.4,560.2 248.3,560.2 258.1,552.0 268.0,506.0 277.8,500.0 287.7,547.0 297.6,553.0 307.4,536.0 317.3,508.0 327.2,550.0 337.0,560.2 346.9,560.2 356.7,560.2 366.6,560.2 376.5,560.2 386.3,560.2 396.2,560.2 406.1,560.2 415.9,560.2 425.8,560.2 435.6,560.2 445.5,560.2 455.4,560.2 465.2,560.2 475.1,560.2 485.0,560.2 494.8,560.2 504.7,560.2 514.5,560.2 524.4,560.2 534.3,560.2 544.1,560.2 554.0,560.2 563.9,560.2 573.7,560.2 583.6,560.2 593.4,560.2 603.3,560.2 613.2,560.2 623.0,557.0 632.9,550.5 642.8,551.5 652.6,557.0 662.5,560.2 672.3,560.2 682.2,560.2 692.1,560.2 701.9,560.2 711.8,560.2" fill="none" stroke="#2800ff" stroke-width="2.4" stroke-linejoin="round" stroke-linecap="round"/>
<polyline points="90.5,167.0 100.3,165.8 110.2,169.0 120.0,171.0 129.9,175.0 139.8,168.0 149.6,166.6 159.5,168.3 169.4,176.5 179.2,173.5 189.1,178.0 198.9,178.7 208.8,178.0 218.7,167.0 228.5,157.0 238.4,155.0 248.3,164.0 258.1,177.5 268.0,193.0 277.8,204.0 287.7,210.0 297.6,212.0 307.4,215.0 317.3,220.0 327.2,225.0 337.0,221.0 346.9,218.0 356.7,216.2 366.6,219.0 376.5,214.0 386.3,211.6 396.2,216.0 406.1,220.5 415.9,218.0 425.8,217.0 435.6,223.0 445.5,228.0 455.4,221.0 465.2,220.5 475.1,222.0 485.0,223.8 494.8,220.0 504.7,215.5 514.5,217.0 524.4,220.5 534.3,215.0 544.1,217.0 554.0,219.5 563.9,221.5 573.7,214.6 583.6,212.8 593.4,219.0 603.3,224.0 613.2,222.7 623.0,222.7 632.9,223.5 642.8,226.0 652.6,217.5 662.5,216.0 672.3,218.0 682.2,219.5 692.1,213.0 701.9,212.0 711.8,212.0" fill="none" stroke="#808080" stroke-width="3" stroke-linejoin="round" stroke-linecap="round"/>
<polyline points="90.5,560.2 100.3,560.2 110.2,560.2 120.0,560.2 129.9,560.2 139.8,560.2 149.6,560.2 159.5,560.2 169.4,560.2 179.2,560.2 189.1,560.2 198.9,560.2 208.8,560.2 218.7,560.2 228.5,560.2 238.4,560.2 248.3,560.2 258.1,555.0 268.0,535.5 277.8,536.5 287.7,527.0 297.6,520.0 307.4,532.0 317.3,534.0 327.2,543.5 337.0,551.7 346.9,556.5 356.7,560.2 366.6,560.2 376.5,560.2 386.3,560.2 396.2,560.2 406.1,560.2 415.9,560.2 425.8,560.2 435.6,560.2 445.5,560.2 455.4,560.2 465.2,560.2 475.1,560.2 485.0,560.2 494.8,560.2 504.7,560.2 514.5,560.2 524.4,560.2 534.3,560.2 544.1,560.2 554.0,560.2 563.9,556.5 573.7,553.5 583.6,553.5 593.4,553.5 603.3,547.0 613.2,552.0 623.0,557.5 632.9,560.2 642.8,560.2 652.6,560.2 662.5,560.2 672.3,560.2 682.2,560.2 692.1,560.2 701.9,557.0 711.8,556.0" fill="none" stroke="#808080" stroke-width="3" stroke-linejoin="round" stroke-linecap="round"/>
<polyline points="90.5,167.2 100.3,166.5 110.2,169.5 120.0,168.3 129.9,169.6 139.8,162.5 149.6,158.5 159.5,161.3 169.4,169.6 179.2,171.1 189.1,172.1 198.9,172.9 208.8,170.4 218.7,160.0 228.5,154.5 238.4,150.0 248.3,148.5 258.1,140.5 268.0,164.0 277.8,189.0 287.7,204.5 297.6,205.2 307.4,207.3 317.3,210.0 327.2,218.0 337.0,212.0 346.9,206.3 356.7,210.0 366.6,219.0 376.5,214.5 386.3,210.2 396.2,213.0 406.1,221.0 415.9,207.0 425.8,206.0 435.6,214.0 445.5,219.5 455.4,219.0 465.2,228.0 475.1,240.0 485.0,236.0 494.8,228.0 504.7,229.0 514.5,234.0 524.4,226.0 534.3,216.0 544.1,219.0 554.0,224.0 563.9,216.0 573.7,205.0 583.6,205.0 593.4,205.5 603.3,193.0 613.2,180.5 623.0,188.0 632.9,193.5 642.8,202.0 652.6,213.0 662.5,234.0 672.3,246.0 682.2,250.5 692.1,255.0 701.9,265.0 711.8,277.0" fill="none" stroke="#00dc00" stroke-width="3.3" stroke-linejoin="round" stroke-linecap="round"/>
<polyline points="90.5,560.2 100.3,560.2 110.2,560.2 120.0,560.2 129.9,560.2 139.8,560.2 149.6,560.2 159.5,560.2 169.4,560.2 179.2,560.2 189.1,560.2 198.9,560.2 208.8,560.2 218.7,560.2 228.5,560.2 238.4,560.2 248.3,560.2 258.1,560.2 268.0,554.0 277.8,546.0 287.7,547.0 297.6,470.0 307.4,498.0 317.3,441.0 327.2,502.0 337.0,530.0 346.9,560.2 356.7,560.2 366.6,560.2 376.5,560.2 386.3,560.2 396.2,560.2 406.1,560.2 415.9,557.2 425.8,557.2 435.6,557.2 445.5,557.2 455.4,557.2 465.2,555.5 475.1,554.0 485.0,556.0 494.8,557.2 504.7,557.2 514.5,557.2 524.4,557.2 534.3,557.2 544.1,557.2 554.0,557.2 563.9,557.2 573.7,557.2 583.6,557.2 593.4,557.2 603.3,557.2 613.2,557.2 623.0,557.2 632.9,560.2 642.8,541.0 652.6,522.0 662.5,521.0 672.3,520.0 682.2,539.0 692.1,557.5 701.9,557.5 711.8,557.5" fill="none" stroke="#00dc00" stroke-width="3.3" stroke-linejoin="round" stroke-linecap="round"/>
</g>
<rect x="89" y="47" width="624" height="3" fill="#000"/>
<rect x="89" y="47" width="3" height="514" fill="#000"/>
<rect x="89" y="558" width="624" height="3" fill="#000"/>
<rect x="710" y="47" width="3" height="514" fill="#000"/>
<path d="M87 48.5H89M87 91.5H89M87 133.5H89M87 176.5H89M87 219.5H89M87 261.5H89M87 304.5H89M87 346.5H89M87 389.5H89M87 431.5H89M87 474.5H89M87 517.5H89M87 559.5H89M713 48.5H715M713 99.5H715M713 150.5H715M713 201.5H715M713 252.5H715M713 304.5H715M713 355.5H715M713 406.5H715M713 457.5H715M713 508.5H715M713 559.5H715M159.5 561V563M238.5 561V563M316.5 561V563M395.5 561V563M474.5 561V563M553.5 561V563M632.5 561V563M711.5 561V563" stroke="#000" stroke-width="1"/>
<rect x="528.5" y="48.5" width="183" height="73" fill="#fff" stroke="#000" stroke-width="1"/>
<line x1="549" y1="63.5" x2="589" y2="63.5" stroke="#f00000" stroke-width="3"/>
<text x="605.3" y="66.8" font-size="11.2" textLength="99.5" lengthAdjust="spacingAndGlyphs">30–Jahres–Mittel</text>
<line x1="549" y1="77.5" x2="589" y2="77.5" stroke="#2800ff" stroke-width="3"/>
<text x="605.3" y="81.7" font-size="11.2" textLength="77" lengthAdjust="spacingAndGlyphs">Kontroll–Lauf</text>
<line x1="549" y1="92.5" x2="589" y2="92.5" stroke="#00dc00" stroke-width="3"/>
<text x="605.3" y="96.8" font-size="11.2" textLength="85" lengthAdjust="spacingAndGlyphs">GFS–Hauptlauf</text>
<line x1="549" y1="107.5" x2="589" y2="107.5" stroke="#808080" stroke-width="3"/>
<text x="605.3" y="111.7" font-size="11.2" textLength="93" lengthAdjust="spacingAndGlyphs">Ensemble–Mittel</text>
<text x="17.8" y="13" font-size="16.5" textLength="67" lengthAdjust="spacingAndGlyphs">Position</text>
<text x="104.1" y="13" font-size="16.5" textLength="31.6" lengthAdjust="spacingAndGlyphs">Lat:</text>
<text x="146.0" y="13" font-size="16.5" textLength="20.1" lengthAdjust="spacingAndGlyphs">41</text>
<text x="177.1" y="13" font-size="16.5" textLength="36.5" lengthAdjust="spacingAndGlyphs">Lon:</text>
<text x="223.1" y="13" font-size="16.5" textLength="21.0" lengthAdjust="spacingAndGlyphs">29</text>
<text x="493.6" y="13" font-size="17" textLength="126.5" lengthAdjust="spacingAndGlyphs" stroke="#000" stroke-width="0.75">Sat,17SEP2011</text>
<text x="634" y="13" font-size="17" textLength="32.5" lengthAdjust="spacingAndGlyphs" stroke="#000" stroke-width="0.75">06Z</text>
<text x="123.0" y="36" font-size="25.5" textLength="43.7" lengthAdjust="spacingAndGlyphs" stroke="#000" stroke-width="0.45">850</text>
<text x="180.9" y="36" font-size="25.5" textLength="42.5" lengthAdjust="spacingAndGlyphs" stroke="#000" stroke-width="0.45">hPa</text>
<text x="235.4" y="36" font-size="25.5" textLength="67.1" lengthAdjust="spacingAndGlyphs" stroke="#000" stroke-width="0.45">Temp.</text>
<text x="317.6" y="36" font-size="25.5" textLength="18.6" lengthAdjust="spacingAndGlyphs" stroke="#000" stroke-width="0.45">in</text>
<text x="350.2" y="36" font-size="25.5" textLength="33.4" lengthAdjust="spacingAndGlyphs" stroke="#000" stroke-width="0.45">°C,</text>
<text x="397.0" y="36" font-size="25.5" textLength="191.5" lengthAdjust="spacingAndGlyphs" stroke="#000" stroke-width="0.45">6h–Niederschlag</text>
<text x="601.8" y="36" font-size="25.5" textLength="19.3" lengthAdjust="spacingAndGlyphs" stroke="#000" stroke-width="0.45">in</text>
<text x="634.3" y="36" font-size="25.5" textLength="43.3" lengthAdjust="spacingAndGlyphs" stroke="#000" stroke-width="0.45">mm</text>
<text x="-0.8" y="108.2" font-size="12.2" textLength="16.2" lengthAdjust="spacingAndGlyphs" fill="#3c00ff">P0</text>
<text x="-0.8" y="126.45" font-size="12.2" textLength="16.2" lengthAdjust="spacingAndGlyphs" fill="#0028ff">P1</text>
<text x="-0.8" y="144.7" font-size="12.2" textLength="16.2" lengthAdjust="spacingAndGlyphs" fill="#0064ff">P2</text>
<text x="-0.8" y="162.95" font-size="12.2" textLength="16.2" lengthAdjust="spacingAndGlyphs" fill="#0096f0">P3</text>
<text x="-0.8" y="181.2" font-size="12.2" textLength="16.2" lengthAdjust="spacingAndGlyphs" fill="#00b4f0">P4</text>
<text x="-0.8" y="199.45" font-size="12.2" textLength="16.2" lengthAdjust="spacingAndGlyphs" fill="#00d2e6">P5</text>
<text x="-0.8" y="217.7" font-size="12.2" textLength="16.2" lengthAdjust="spacingAndGlyphs" fill="#00d2aa">P6</text>
<text x="-0.8" y="235.95" font-size="12.2" textLength="16.2" lengthAdjust="spacingAndGlyphs" fill="#00c878">P7</text>
<text x="-0.8" y="254.2" font-size="12.2" textLength="16.2" lengthAdjust="spacingAndGlyphs" fill="#00d250">P8</text>
<text x="-0.8" y="272.45" font-size="12.2" textLength="16.2" lengthAdjust="spacingAndGlyphs" fill="#10d21e">P9</text>
<text x="-0.8" y="290.7" font-size="12.2" textLength="23" lengthAdjust="spacingAndGlyphs" fill="#00dc00">P10</text>
<text x="-0.8" y="308.95" font-size="12.2" textLength="23" lengthAdjust="spacingAndGlyphs" fill="#f0e600">P11</text>
<text x="-0.8" y="327.2" font-size="12.2" textLength="23" lengthAdjust="spacingAndGlyphs" fill="#f0d200">P12</text>
<text x="-0.8" y="345.45" font-size="12.2" textLength="23" lengthAdjust="spacingAndGlyphs" fill="#f0be00">P13</text>
<text x="-0.8" y="363.7" font-size="12.2" textLength="23" lengthAdjust="spacingAndGlyphs" fill="#f0a500">P14</text>
<text x="-0.8" y="381.95" font-size="12.2" textLength="23" lengthAdjust="spacingAndGlyphs" fill="#f08c00">P15</text>
<text x="-0.8" y="400.2" font-size="12.2" textLength="23" lengthAdjust="spacingAndGlyphs" fill="#f07300">P16</text>
<text x="-0.8" y="418.45" font-size="12.2" textLength="23" lengthAdjust="spacingAndGlyphs" fill="#e65000">P17</text>
<text x="-0.8" y="436.7" font-size="12.2" textLength="23" lengthAdjust="spacingAndGlyphs" fill="#dc3214">P18</text>
<text x="-0.8" y="454.95" font-size="12.2" textLength="23" lengthAdjust="spacingAndGlyphs" fill="#c81e1e">P19</text>
<text x="-0.8" y="473.2" font-size="12.2" textLength="23" lengthAdjust="spacingAndGlyphs" fill="#b40a14">P20</text>
<text x="83.6" y="52.6" font-size="11.4" text-anchor="end">30</text>
<text x="83.6" y="95.6" font-size="11.4" text-anchor="end">25</text>
<text x="83.6" y="137.6" font-size="11.4" text-anchor="end">20</text>
<text x="83.6" y="180.6" font-size="11.4" text-anchor="end">15</text>
<text x="83.6" y="223.6" font-size="11.4" text-anchor="end">10</text>
<text x="83.6" y="265.6" font-size="11.4" text-anchor="end">5</text>
<text x="83.6" y="308.6" font-size="11.4" text-anchor="end">0</text>
<text x="83.6" y="350.6" font-size="11.4" text-anchor="end">–5</text>
<text x="83.6" y="393.6" font-size="11.4" text-anchor="end">–10</text>
<text x="83.6" y="435.6" font-size="11.4" text-anchor="end">–15</text>
<text x="83.6" y="478.6" font-size="11.4" text-anchor="end">–20</text>
<text x="83.6" y="521.6" font-size="11.4" text-anchor="end">–25</text>
<text x="83.6" y="563.6" font-size="11.4" text-anchor="end">–30</text>
<text x="717.5" y="52.6" font-size="11.4">50</text>
<text x="717.5" y="103.6" font-size="11.4">45</text>
<text x="717.5" y="154.6" font-size="11.4">40</text>
<text x="717.5" y="205.6" font-size="11.4">35</text>
<text x="717.5" y="256.6" font-size="11.4">30</text>
<text x="717.5" y="308.6" font-size="11.4">25</text>
<text x="717.5" y="359.6" font-size="11.4">20</text>
<text x="717.5" y="410.6" font-size="11.4">15</text>
<text x="717.5" y="461.6" font-size="11.4">10</text>
<text x="717.5" y="512.6" font-size="11.4">5</text>
<text x="717.5" y="563.6" font-size="11.4">0</text>
<text x="159.8" y="573.8" font-size="12.4" text-anchor="middle" textLength="30.5" lengthAdjust="spacingAndGlyphs">19SEP</text>
<text x="238.8" y="573.8" font-size="12.4" text-anchor="middle" textLength="30.5" lengthAdjust="spacingAndGlyphs">21SEP</text>
<text x="316.8" y="573.8" font-size="12.4" text-anchor="middle" textLength="30.5" lengthAdjust="spacingAndGlyphs">23SEP</text>
<text x="395.8" y="573.8" font-size="12.4" text-anchor="middle" textLength="30.5" lengthAdjust="spacingAndGlyphs">25SEP</text>
<text x="474.8" y="573.8" font-size="12.4" text-anchor="middle" textLength="30.5" lengthAdjust="spacingAndGlyphs">27SEP</text>
<text x="553.8" y="573.8" font-size="12.4" text-anchor="middle" textLength="30.5" lengthAdjust="spacingAndGlyphs">29SEP</text>
<text x="632.8" y="573.8" font-size="12.4" text-anchor="middle" textLength="23.5" lengthAdjust="spacingAndGlyphs">1OCT</text>
<text x="711.8" y="573.8" font-size="12.4" text-anchor="middle" textLength="23.5" lengthAdjust="spacingAndGlyphs">3OCT</text>
<text x="159.3" y="585" font-size="12.4" text-anchor="middle" textLength="23.5" lengthAdjust="spacingAndGlyphs">2011</text>
<text x="91.2" y="607.7" font-size="13" textLength="43.1" lengthAdjust="spacingAndGlyphs">Daten:</text>
<text x="141.5" y="607.7" font-size="13" textLength="72.9" lengthAdjust="spacingAndGlyphs">Ensembles</text>
<text x="221.7" y="607.7" font-size="13" textLength="24.1" lengthAdjust="spacingAndGlyphs">des</text>
<text x="253.1" y="607.7" font-size="13" textLength="25.6" lengthAdjust="spacingAndGlyphs">GFS</text>
<text x="287.0" y="607.7" font-size="13" textLength="23.8" lengthAdjust="spacingAndGlyphs">von</text>
<text x="318.1" y="607.7" font-size="13" textLength="36.4" lengthAdjust="spacingAndGlyphs">NCEP</text>
<text x="602" y="608" font-size="13" textLength="120" lengthAdjust="spacingAndGlyphs">Wetterzentrale</text>
<g fill="none" stroke="#ff0019" stroke-width="6.2" stroke-linecap="round" stroke-linejoin="round"><polyline points="304.3,89 296,95 288,101.5 280,108 272,115 263.8,122.5"/><polyline points="265.7,104.5 264,122.5 285.2,122.5"/></g>
<text x="313.2" y="84.7" font-size="17" fill="#ff0019" stroke="#ff0019" stroke-width="0.5" font-family="'DejaVu Sans', 'Liberation Sans', sans-serif" textLength="101.3" lengthAdjust="spacingAndGlyphs">Sıcağın son</text>
<text x="334" y="106.8" font-size="17" fill="#ff0019" stroke="#ff0019" stroke-width="0.5" font-family="'DejaVu Sans', 'Liberation Sans', sans-serif" textLength="60" lengthAdjust="spacingAndGlyphs">vuruşu</text>
<g fill="none" stroke="#0000ff" stroke-width="6.8" stroke-linecap="round" stroke-linejoin="round"><polyline points="332.4,312 325.8,300.9 322.1,289.1 315.5,277.3 308.1,264 299.2,250.7 291.3,238"/><polyline points="289,256 291.3,238 305.5,245.5"/><polyline points="336,330 330.3,338.1 326.2,346.3 322.9,357.8 320.4,372.6 316.3,384.1 311.4,397.3 306.4,413"/><polyline points="303.5,390 306.4,413 313,409 326.5,397.5"/></g>
<text x="340.8" y="321.7" font-size="17" fill="#0000ff" stroke="#0000ff" stroke-width="0.5" font-family="'DejaVu Sans', 'Liberation Sans', sans-serif" textLength="169.5" lengthAdjust="spacingAndGlyphs">Serinleme ve Yağış</text>
</svg>
</body></html>
